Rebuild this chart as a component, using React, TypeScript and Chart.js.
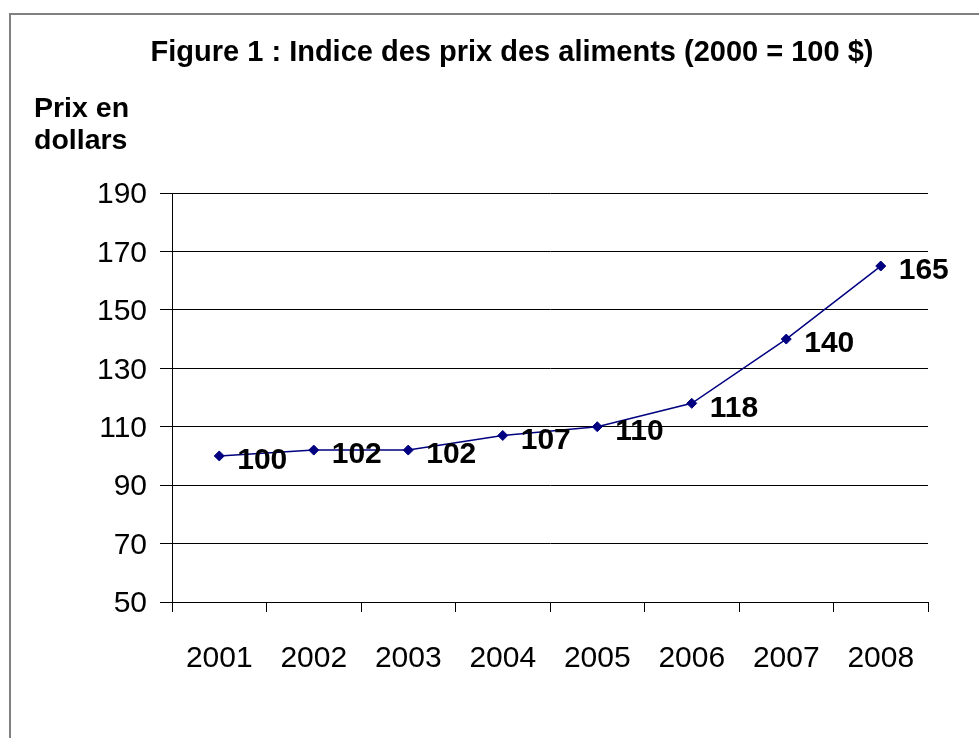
import React, { useEffect, useRef } from "react";
import { Chart, registerables } from "chart.js";

Chart.register(...registerables);

const TITLE = "Figure 1 : Indice des prix des aliments (2000 = 100 $)";
const Y_LABEL_LINES = ["Prix en", "dollars"];
const CATEGORIES = ["2001", "2002", "2003", "2004", "2005", "2006", "2007", "2008"];
const VALUES = [100, 102, 102, 107, 110, 118, 140, 165];
const Y_MIN = 50;
const Y_MAX = 190;
const Y_STEP = 20;

const FONT = "Arial, 'Liberation Sans', sans-serif";

const annotationsPlugin = {
  id: "annotations",
  afterDraw(chart: any) {
    const ctx = chart.ctx;
    ctx.save();
    ctx.fillStyle = "#000";
    ctx.font = `bold 29px ${FONT}`;
    ctx.textAlign = "center";
    ctx.textBaseline = "middle";
    ctx.fillText(TITLE, 512, 53);
    ctx.font = `bold 28.5px ${FONT}`;
    ctx.textAlign = "left";
    ctx.fillText(Y_LABEL_LINES[0], 34, 109);
    ctx.fillText(Y_LABEL_LINES[1], 34, 141.5);

    const meta = chart.getDatasetMeta(0);
    ctx.font = `bold 30px ${FONT}`;
    ctx.textAlign = "left";
    ctx.textBaseline = "middle";
    meta.data.forEach((pt: any, i: number) => {
      ctx.fillText(String(VALUES[i]), pt.x + 18, pt.y + 5);
    });
    ctx.restore();
  },
};

export default function App() {
  const ref = useRef<HTMLCanvasElement | null>(null);

  useEffect(() => {
    const canvas = ref.current!;
    const chart = new Chart(canvas, {
      type: "line",
      data: {
        labels: CATEGORIES,
        datasets: [
          {
            data: VALUES,
            borderColor: "#000080",
            backgroundColor: "#000080",
            borderWidth: 1.5,
            pointStyle: "rectRot",
            pointRadius: 5,
            pointBorderWidth: 1,
            pointBackgroundColor: "#000080",
            pointBorderColor: "#000080",
            tension: 0,
          },
        ],
      },
      options: {
        responsive: false,
        animation: false,
        layout: { padding: { left: 0, right: 51, top: 193, bottom: 0 } },
        plugins: {
          legend: { display: false },
          title: { display: false },
          tooltip: { enabled: false },
        },
        scales: {
          x: {
            type: "category",
            offset: true,
            afterFit(scale: any) {
              scale.height = 136;
            },
            grid: {
              offset: true,
              drawOnChartArea: false,
              drawTicks: true,
              tickLength: 10,
              color: "#000",
              lineWidth: 1,
            },
            border: { display: true, color: "#000", width: 1 },
            ticks: {
              color: "#000",
              font: { family: FONT, size: 30 },
              padding: 29,
              maxRotation: 0,
              autoSkip: false,
            },
          },
          y: {
            min: Y_MIN,
            max: Y_MAX,
            afterFit(scale: any) {
              scale.width = 172;
            },
            grid: {
              drawOnChartArea: true,
              drawTicks: true,
              tickLength: 12,
              color: "#000",
              lineWidth: 1,
            },
            border: { display: true, color: "#000", width: 1 },
            ticks: {
              stepSize: Y_STEP,
              color: "#000",
              font: { family: FONT, size: 30 },
              padding: 13,
              labelOffset: 2,
            },
          },
        },
      },
      plugins: [annotationsPlugin],
    });
    return () => chart.destroy();
  }, []);

  return (
    <div
      style={{
        position: "fixed",
        left: 0,
        top: 0,
        width: 979,
        height: 738,
        background: "#fff",
        overflow: "hidden",
      }}
    >
      <div
        style={{
          position: "absolute",
          left: 9,
          top: 13,
          width: 1000,
          height: 1000,
          borderTop: "2px solid #808080",
          borderLeft: "2px solid #808080",
        }}
      />
      <canvas
        ref={ref}
        width={979}
        height={738}
        style={{ position: "absolute", left: 0, top: 0, width: 979, height: 738 }}
      />
    </div>
  );
}
